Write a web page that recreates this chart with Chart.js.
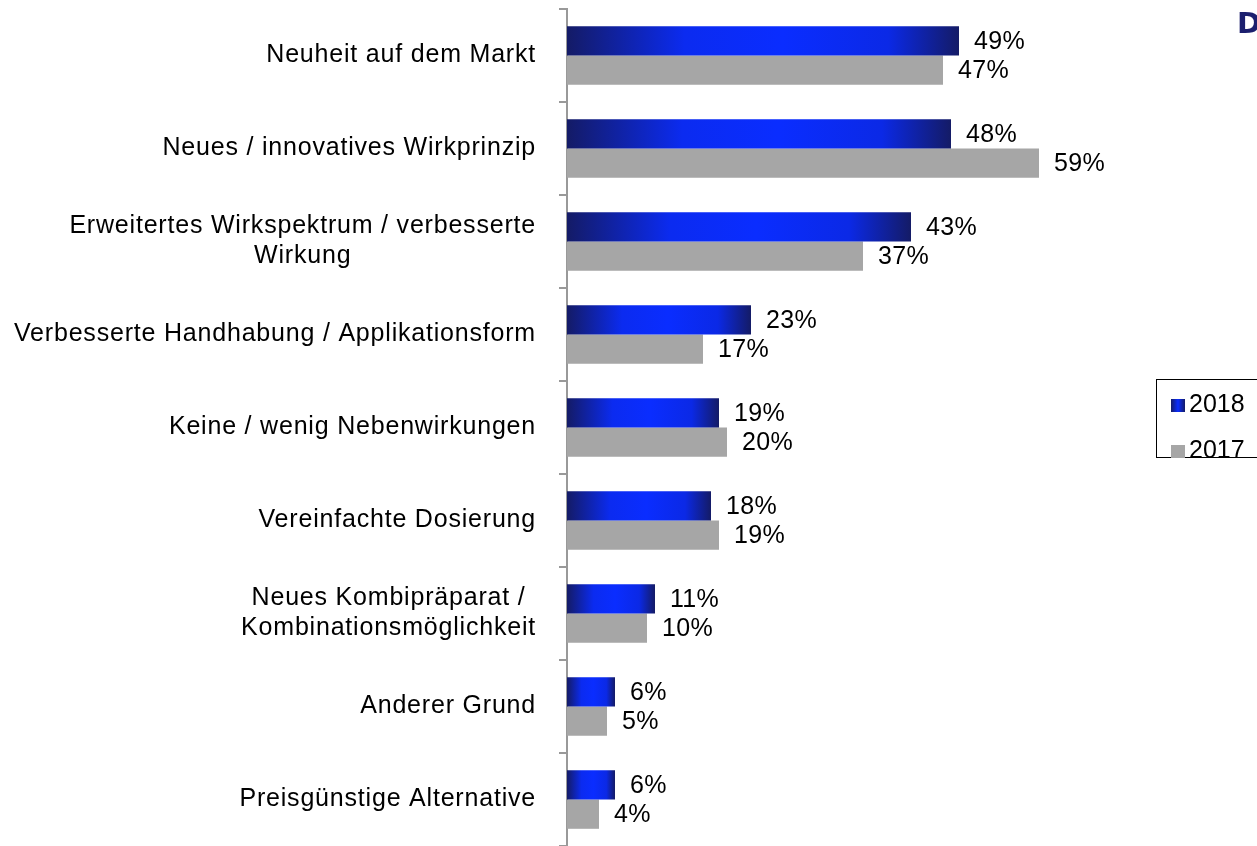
<!DOCTYPE html>
<html>
<head>
<meta charset="utf-8">
<script src="https://cdn.jsdelivr.net/npm/chart.js@4"></script>
<style>
  body { margin: 0; background: #fff; }
  #wrap { position: relative; width: 1257px; height: 846px; overflow: hidden; }
  #logo { position: absolute; left: 1237px; top: 6px; font: bold 29px Verdana, "DejaVu Sans", sans-serif; color: #1b1f6e; }
  #legend { position: absolute; left: 1156px; top: 379px; width: 120px; height: 79px; border: 1px solid #000;
    font: 25px "Liberation Sans", Arial, sans-serif; color: #000; box-sizing: border-box; }
  .item { position: absolute; left: 14px; height: 28px; line-height: 28px; }
  .sw { display: inline-block; width: 14px; height: 13px; margin-right: 4px; vertical-align: 0px; }
</style>
</head>
<body>
<div id="wrap">
  <canvas id="chart" width="1257" height="846"></canvas>
  <div id="logo">D</div>
  <div id="legend">
    <div class="item" style="top:9px"><span class="sw" style="background:linear-gradient(90deg,#141b66,#0a2dff,#141b66)"></span>2018</div>
    <div class="item" style="top:55px"><span class="sw" style="background:#a6a6a6"></span>2017</div>
  </div>
</div>
<script>
const categories = [
  ["Neuheit auf dem Markt"],
  ["Neues / innovatives Wirkprinzip"],
  ["Erweitertes Wirkspektrum / verbesserte", "Wirkung"],
  ["Verbesserte Handhabung / Applikationsform"],
  ["Keine / wenig Nebenwirkungen"],
  ["Vereinfachte Dosierung"],
  ["Neues Kombipräparat /", "Kombinationsmöglichkeit"],
  ["Anderer Grund"],
  ["Preisgünstige Alternative"]
];
const values2018 = [49, 48, 43, 23, 19, 18, 11, 6, 6];
const values2017 = [47, 59, 37, 17, 20, 19, 10, 5, 4];

const FONT = '25px "Liberation Sans", Arial, sans-serif';

// dark -> bright -> dark across each blue bar
function blueGradient(ctx) {
  const chart = ctx.chart;
  if (!chart.chartArea || ctx.type !== "data") return "#0a2dff";
  const x = chart.scales.x;
  const x0 = x.getPixelForValue(0);
  const x1 = x.getPixelForValue(ctx.raw);
  if (x1 - x0 < 1) return "#0a2dff";
  const g = chart.ctx.createLinearGradient(x0, 0, x1, 0);
  g.addColorStop(0, "#141b66");
  g.addColorStop(0.3, "#0b2bf0");
  g.addColorStop(0.55, "#0a2dff");
  g.addColorStop(0.82, "#0b29e6");
  g.addColorStop(1, "#141b66");
  return g;
}

const labelPlugin = {
  id: "labels",
  afterDatasetsDraw(chart) {
    const c = chart.ctx;
    const y = chart.scales.y;
    c.save();
    c.font = FONT;
    c.fillStyle = "#000";
    c.textBaseline = "middle";
    // category labels, block right aligned, lines centered
    c.letterSpacing = "0.8px";
    const right = 536;
    categories.forEach((lines, i) => {
      const cy = y.getPixelForValue(i);
      const w = Math.max(...lines.map(l => c.measureText(l).width));
      const lh = 30;
      lines.forEach((l, j) => {
        c.textAlign = "center";
        c.fillText(l, right - w / 2, cy + (j - (lines.length - 1) / 2) * lh);
      });
    });
    // value labels
    c.letterSpacing = "0.3px";
    c.textAlign = "left";
    chart.data.datasets.forEach((ds, di) => {
      chart.getDatasetMeta(di).data.forEach((bar, i) => {
        c.fillText(ds.data[i] + "%", bar.x + 15, bar.y + 1);
      });
    });
    c.restore();
  }
};

new Chart(document.getElementById("chart"), {
  type: "bar",
  data: {
    labels: categories,
    datasets: [
      { label: "2018", data: values2018, backgroundColor: blueGradient, borderWidth: 0 },
      { label: "2017", data: values2017, backgroundColor: "#a6a6a6", borderWidth: 0 }
    ]
  },
  options: {
    indexAxis: "y",
    responsive: false,
    animation: false,
    categoryPercentage: 0.63,
    barPercentage: 1,
    layout: { padding: { top: 9, right: 50, bottom: 0, left: 0 } },
    plugins: { legend: { display: false }, tooltip: { enabled: false } },
    scales: {
      x: { display: false, min: 0, max: 80 },
      y: {
        afterFit(scale) { scale.width = 567; },
        ticks: { display: false },
        grid: { drawOnChartArea: false, offset: true, tickLength: 8, color: "#999", lineWidth: 2 },
        border: { color: "#999", width: 2 }
      }
    }
  },
  plugins: [labelPlugin]
});
</script>
</body>
</html>
